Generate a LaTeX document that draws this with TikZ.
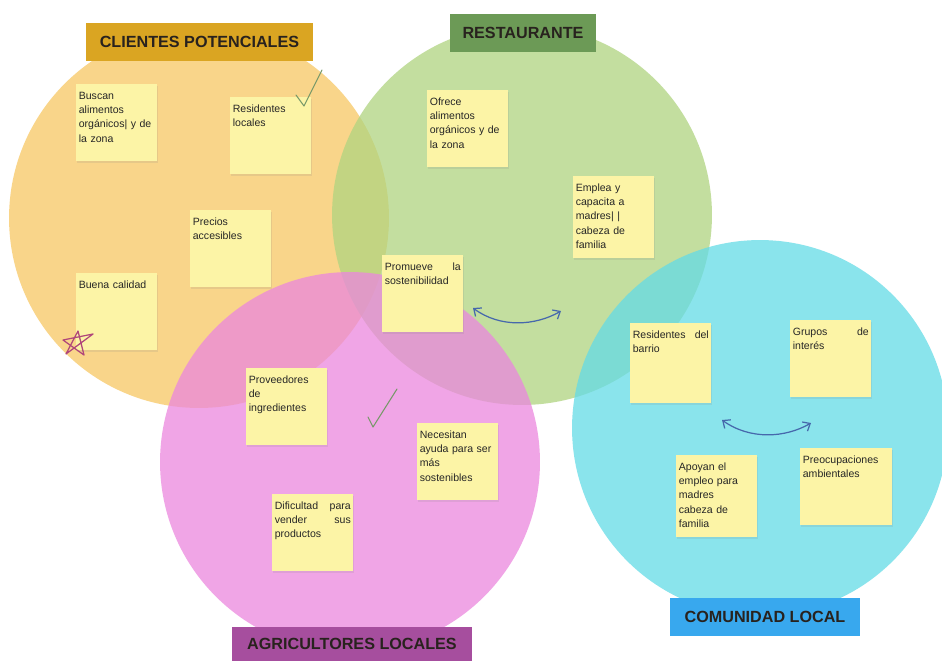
\documentclass[tikz,border=0pt]{standalone}
\usepackage{fontspec}
\setmainfont{Liberation Sans}
\usetikzlibrary{shadows,arrows.meta}

\definecolor{clientfill}{RGB}{247,199,99}
\definecolor{restfill}{RGB}{176,212,128}
\definecolor{agrofill}{RGB}{235,135,222}
\definecolor{comfill}{RGB}{100,219,230}
\definecolor{clienthead}{RGB}{218,165,34}
\definecolor{resthead}{RGB}{108,154,86}
\definecolor{agrohead}{RGB}{166,78,158}
\definecolor{comhead}{RGB}{56,168,238}
\definecolor{notebg}{RGB}{252,244,166}
\definecolor{headtext}{RGB}{40,34,30}
\definecolor{arrowblue}{RGB}{70,104,172}
\definecolor{tickgreen}{RGB}{118,152,104}
\definecolor{starpink}{RGB}{176,70,122}

\begin{document}
\begin{tikzpicture}[x=0.02cm, y=-0.02cm,
circ/.style = {fill opacity=0.75},
sticky/.style = {fill=notebg, anchor=north west, inner xsep=0.05cm, inner ysep=0.13cm, text width=1.52cm, text height=0.17cm, text depth=1.11cm, font=\fontsize{6}{8.1}\selectfont, text=black!85, drop shadow={opacity=0.15, shadow xshift=0.4pt, shadow yshift=-0.8pt}},
heading/.style = {font=\fontsize{9.2}{11}\selectfont\bfseries, text=headtext, minimum height=0.76cm, inner sep=0pt},
link/.style = {{Straight Barb[length=3.5pt,width=6pt]}-{Straight Barb[length=3.5pt,width=6pt]}, arrowblue, line width=0.7pt},
tick/.style = {tickgreen, line width=0.6pt, line cap=round, line join=round}]

    \useasboundingbox (0,0) rectangle (942,660);
    \clip (0,0) rectangle (942,660);
    \fill[white] (0,0) rectangle (942,660);

    % the four groups
    \fill[clientfill, circ] (199,218) circle (3.8cm);
    \fill[restfill, circ] (522,215) circle (3.8cm);
    \fill[agrofill, circ] (350,462) circle (3.8cm);
    \fill[comfill, circ] (760,428) circle (3.76cm);

    \node[heading, fill=clienthead, minimum width=4.54cm](a) at (199.5,42) {CLIENTES POTENCIALES};
    \node[heading, fill=resthead, minimum width=2.92cm](b) at (523,33) {RESTAURANTE};
    \node[heading, fill=agrohead, minimum width=4.8cm, minimum height=0.7cm](c) at (352,644) {AGRICULTORES LOCALES};
    \node[heading, fill=comhead, minimum width=3.8cm](d) at (765,617) {COMUNIDAD LOCAL};

    % clientes
    \node[sticky](1) at (76,84) {Buscan\\ alimentos\\ orgánicos| y de\\ la zona};
    \node[sticky](2) at (230,97) {Residentes\\ locales};
    \node[sticky](3) at (190,210) {Precios\\ accesibles};
    \node[sticky](4) at (76,273) {Buena calidad};

    % restaurante
    \node[sticky](5) at (427,90) {Ofrece\\ alimentos\\ orgánicos y de\\ la zona};
    \node[sticky, text depth=1.21cm](6) at (573,176) {Emplea y\\ capacita a\\ madres| |\\ cabeza de\\ familia};
    \node[sticky](7) at (382,255) {Promueve\hfill la\\ sostenibilidad};

    % agricultores
    \node[sticky](8) at (246,368) {Proveedores\\ de\\ ingredientes};
    \node[sticky](9) at (417,423) {Necesitan\\ ayuda para ser\\ más\\ sostenibles};
    \node[sticky](10) at (272,494) {Dificultad\hfill para\\ vender\hfill sus\\ productos};

    % comunidad
    \node[sticky, text depth=1.17cm](11) at (630,323) {Residentes\hfill del\\ barrio};
    \node[sticky](12) at (790,320) {Grupos\hfill de\\ interés};
    \node[sticky, text depth=1.21cm](13) at (676,455) {Apoyan el\\ empleo para\\ madres\\ cabeza de\\ familia};
    \node[sticky, text width=1.74cm](14) at (800,448) {Preocupaciones\\ ambientales};

    \coordinate (l1) at (473,308);
    \coordinate (r1) at (561,311);
    \coordinate (l2) at (722,420);
    \coordinate (r2) at (811,423);

    \draw [link] (l1) .. controls (500,328) and (535,326) .. (r1);
    \draw [link] (l2) .. controls (750,440) and (785,438) .. (r2);

    % hand drawn marks
    \draw [tick] (296,95) -- (304,106) -- (322,70);
    \draw [tick] (368,417) -- (373,427) -- (397,389);
    \draw [starpink, line width=0.7pt, line join=round] (78,331) -- (84,355) -- (63,340) -- (93,334) -- (66,354) -- cycle;

\end{tikzpicture}
\end{document}
